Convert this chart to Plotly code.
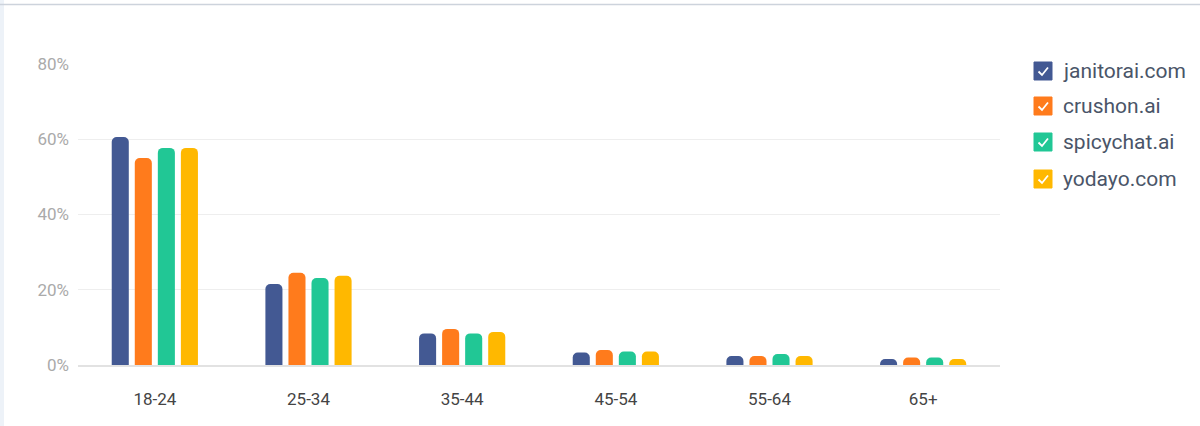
import plotly.graph_objects as go

categories = ["18-24", "25-34", "35-44", "45-54", "55-64", "65+"]
series_names = ["janitorai.com", "crushon.ai", "spicychat.ai", "yodayo.com"]
janitorai = [60.6, 21.5, 8.4, 3.3, 2.4, 1.6]
crushon = [55.0, 24.5, 9.6, 4.0, 2.4, 2.0]
spicychat = [57.7, 23.1, 8.4, 3.6, 2.9, 2.0]
yodayo = [57.7, 23.7, 8.8, 3.6, 2.4, 1.6]
series_values = [janitorai, crushon, spicychat, yodayo]
colors = ["#435993", "#FF7B1C", "#21C795", "#FFB800"]
y_ticks = [0, 20, 40, 60, 80]
y_tick_labels = ["0%", "20%", "40%", "60%", "80%"]

W, H = 1200, 426
ML, MR, MT, MB = 78, 200, 64, 61
PW = W - ML - MR
PH = H - MT - MB

fig = go.Figure()
for name, vals, col in zip(series_names, series_values, colors):
    fig.add_trace(go.Bar(x=categories, y=vals, name=name, marker_color=col,
                         marker_line_width=0, showlegend=False,
                         hovertemplate="%{x}: %{y}%<extra>" + name + "</extra>"))

def px_x(p):
    return (p - ML) / PW

def px_y(p):
    return (H - MB - p) / PH

shapes = []
annotations = []
# page decorations: left strip and top border
shapes.append(dict(type="rect", xref="paper", yref="paper", x0=px_x(0), x1=px_x(4),
                   y0=px_y(H), y1=px_y(0), fillcolor="#EDF2F8", line_width=0, layer="below"))
shapes.append(dict(type="line", xref="paper", yref="paper", x0=px_x(0), x1=px_x(W),
                   y0=px_y(4.5), y1=px_y(4.5), line=dict(color="#CDD3DC", width=1.5)))

# custom legend with check boxes
leg_x0 = 1034
leg_size = 18
leg_y_centers = [71, 106, 142, 179]
for name, col, yc in zip(series_names, colors, leg_y_centers):
    shapes.append(dict(type="rect", xref="paper", yref="paper",
                       x0=px_x(leg_x0), x1=px_x(leg_x0 + leg_size),
                       y0=px_y(yc + leg_size / 2), y1=px_y(yc - leg_size / 2),
                       fillcolor=col, line=dict(color=col, width=1)))
    # check mark
    shapes.append(dict(type="path", xref="paper", yref="paper",
                       path="M {} {} L {} {} L {} {}".format(
                           px_x(leg_x0 + 4.5), px_y(yc + 0.5),
                           px_x(leg_x0 + 8), px_y(yc + 4),
                           px_x(leg_x0 + 14), px_y(yc - 3.5)),
                       line=dict(color="white", width=1.8)))
    annotations.append(dict(text=name, xref="paper", yref="paper",
                            x=px_x(1061), y=px_y(yc), xanchor="left", yanchor="middle",
                            showarrow=False,
                            font=dict(family="Roboto", size=21, color="#4A5568")))

fig.update_layout(
    width=W, height=H,
    margin=dict(l=ML, r=MR, t=MT, b=MB, pad=0),
    paper_bgcolor="white", plot_bgcolor="white",
    barmode="group", bargap=0.40, bargroupgap=0.26,
    barcornerradius=5,
    font=dict(family="Roboto", size=17, color="#555555"),
    xaxis=dict(showgrid=False, showline=True, linecolor="#E2E2E2", linewidth=2,
               ticks="", tickfont=dict(size=17, color="#444444"), ticklabelstandoff=18),
    yaxis=dict(range=[0, 80], tickvals=y_ticks, ticktext=y_tick_labels,
               showgrid=True, gridcolor="#EEEEEE", gridwidth=1, zeroline=False,
               showline=False, ticks="", tickfont=dict(size=17, color="#AAAAAA"),
               ticklabelstandoff=8),
    shapes=shapes, annotations=annotations,
    showlegend=False,
)

fig.write_html("out.html", config={"displayModeBar": False},
               post_script="document.body.style.margin='0';document.body.style.overflow='hidden';")
